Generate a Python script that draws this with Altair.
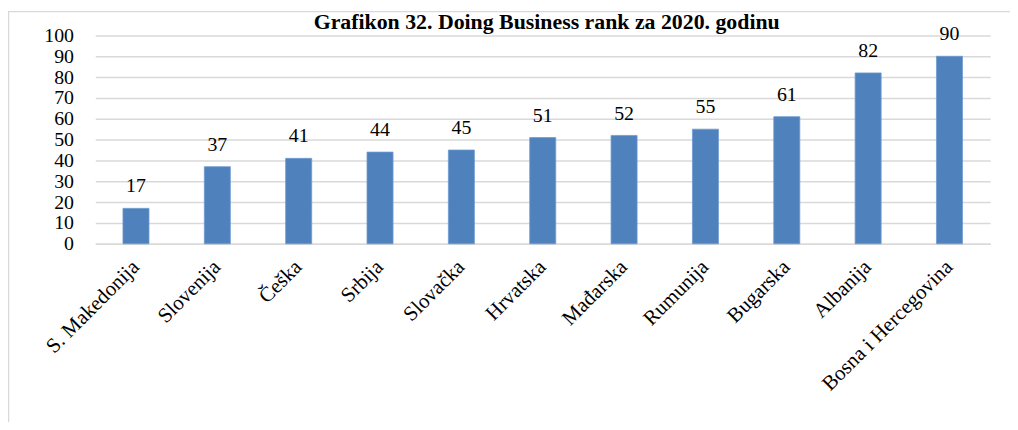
import altair as alt
import pandas as pd

countries = ["S. Makedonija", "Slovenija", "Češka", "Srbija", "Slovačka", "Hrvatska",
             "Mađarska", "Rumunija", "Bugarska", "Albanija", "Bosna i Hercegovina"]
ranks = [17, 37, 41, 44, 45, 51, 52, 55, 61, 82, 90]
y_ticks = [0, 10, 20, 30, 40, 50, 60, 70, 80, 90, 100]
title_text = "Grafikon 32. Doing Business rank za 2020. godinu"

df = pd.DataFrame({"country": countries, "rank": ranks})
FONT = "Liberation Serif"

x_axis = alt.Axis(title=None, labelAngle=-45, labelAlign="right",
                  labelBaseline="middle", labelPadding=20, labelFontSize=21,
                  ticks=False, domain=True, domainColor="#d9d9d9",
                  domainWidth=1.5, labelLimit=400, grid=False)
y_axis = alt.Axis(title=None, values=y_ticks, labelPadding=22, ticks=False,
                  domain=False, grid=True, labelOverlap=False, tickCount=11)
x_enc = alt.X("country:N", sort=countries,
              scale=alt.Scale(paddingInner=0.68, paddingOuter=0.34), axis=x_axis)
y_enc = alt.Y("rank:Q", scale=alt.Scale(domain=[0, 100]), axis=y_axis)

base = alt.Chart(df)
bars = base.mark_bar(color="#4F81BD", stroke="#6f9bd1", strokeWidth=0.8).encode(x=x_enc, y=y_enc)
labels = base.mark_text(font=FONT, fontSize=20, color="black", baseline="alphabetic", dy=-16).encode(
    x=x_enc, y=y_enc, text="rank:Q")

frame = alt.Chart(pd.DataFrame({"f": [0]})).mark_rect(
    fill=None, stroke="#d9d9d9", strokeWidth=1.5).encode(
    x=alt.value(-87.5), x2=alt.value(960), y=alt.value(-24), y2=alt.value(400))

title = alt.Chart(pd.DataFrame({"t": [title_text]})).mark_text(
    font=FONT, fontSize=22, fontWeight="bold", color="black", align="center",
    baseline="alphabetic").encode(x=alt.value(455), y=alt.value(-6), text="t:N")

chart = alt.layer(frame, title, bars, labels).properties(
    width=902, height=210,
    autosize=alt.AutoSizeParams(type="none"),
    padding={"left": 88, "top": 26, "right": 20, "bottom": 178},
).configure(font=FONT).configure_view(stroke=None).configure_axis(
    labelFont=FONT, labelFontSize=20, labelColor="black",
    gridColor="#d9d9d9", gridWidth=1.5)

chart.save("out.html", embed_options={"renderer": "svg", "actions": False})
